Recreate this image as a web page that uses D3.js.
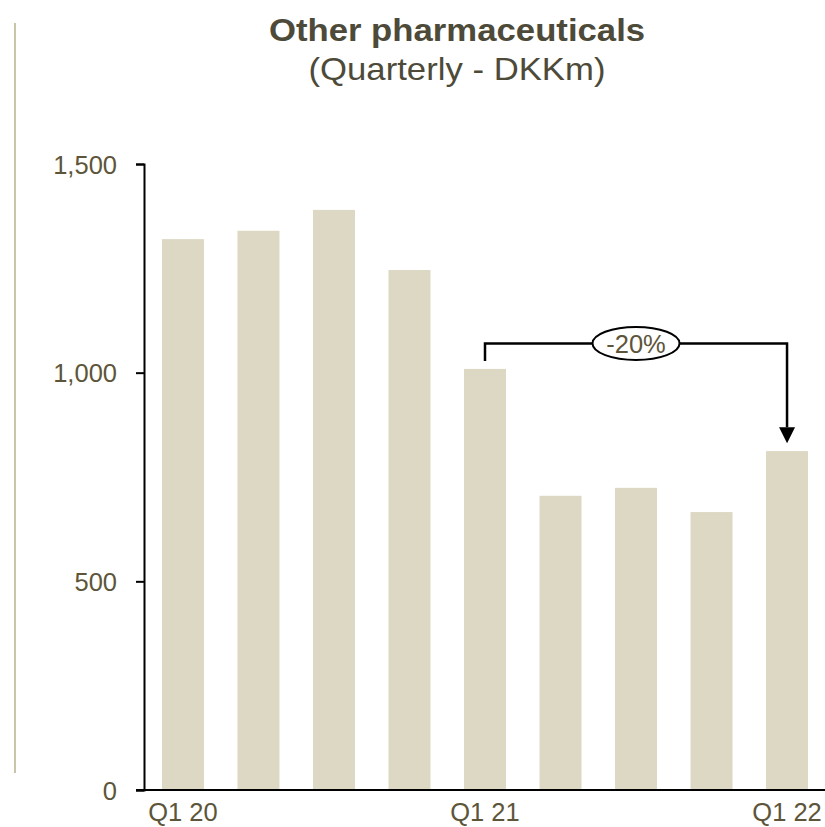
<!DOCTYPE html>
<html>
<head>
<meta charset="utf-8">
<script src="https://cdn.jsdelivr.net/npm/d3@7"></script>
<style>
  html, body { margin: 0; padding: 0; background: #ffffff; }
  svg { display: block; }
  text { font-family: "Liberation Sans", Arial, Helvetica, sans-serif; }
</style>
</head>
<body>
<svg id="chart" width="825" height="827"></svg>
<script>
// ---- data ----
const quarters = ["Q1 20", "Q2 20", "Q3 20", "Q4 20", "Q1 21", "Q2 21", "Q3 21", "Q4 21", "Q1 22"];
const sales = [1320, 1340, 1390, 1246, 1009, 705, 724, 666, 812];
const yTicks = [0, 500, 1000, 1500];
const xLabelShown = ["Q1 20", "Q1 21", "Q1 22"];
const titleText = "Other pharmaceuticals";
const subtitleText = "(Quarterly - DKKm)";
const changeLabel = "-20%";
const changeFrom = "Q1 21";
const changeTo = "Q1 22";
const bracketLevel = 1070;

// ---- styles ----
const barColor = "#ddd8c3";
const textColor = "#5d5539";
const titleColor = "#4d4a39";
const sideLineColor = "#c9c5aa";

const svg = d3.select("#chart");
const W = 825, H = 827;
const plotLeft = 144, plotRight = 826, plotTop = 164, plotBottom = 790;

const x = d3.scaleBand()
  .domain(quarters)
  .range([plotLeft, plotRight])
  .paddingInner(0.444)
  .paddingOuter(0.238);

const y = d3.scaleLinear()
  .domain([0, 1500])
  .range([plotBottom, plotTop]);

// decorative left line
svg.append("line")
  .attr("x1", 15).attr("x2", 15)
  .attr("y1", 23).attr("y2", 773)
  .attr("stroke", sideLineColor).attr("stroke-width", 2);

// title
const tcx = 457;
svg.append("text")
  .attr("transform", `translate(${tcx},41) scale(1.12,1)`)
  .attr("text-anchor", "middle")
  .attr("font-size", 31).attr("font-weight", "bold")
  .attr("fill", titleColor)
  .text(titleText);
svg.append("text")
  .attr("transform", `translate(${tcx},80) scale(1.12,1)`)
  .attr("text-anchor", "middle")
  .attr("font-size", 31)
  .attr("fill", titleColor)
  .text(subtitleText);

// bars
svg.append("g").selectAll("rect")
  .data(quarters.map((q, i) => ({ q, v: sales[i] })))
  .join("rect")
  .attr("x", d => x(d.q))
  .attr("width", x.bandwidth())
  .attr("y", d => y(d.v))
  .attr("height", d => y(0) - y(d.v))
  .attr("fill", barColor);

// y axis
const yAxis = svg.append("g")
  .attr("transform", `translate(${plotLeft},0)`)
  .call(d3.axisLeft(y).tickValues(yTicks).tickFormat(d3.format(",")).tickSize(8).tickPadding(19));
yAxis.selectAll("path, line").attr("stroke", "#000").attr("stroke-width", 2);
yAxis.selectAll("text").attr("font-size", 25.5).attr("fill", textColor)
  .attr("font-family", "'Liberation Sans', Arial, sans-serif").attr("dy", "0.36em");

// x axis
svg.append("line")
  .attr("x1", plotLeft - 8).attr("x2", W)
  .attr("y1", y(0)).attr("y2", y(0))
  .attr("stroke", "#000").attr("stroke-width", 2);
const xAxis = svg.append("g")
  .attr("transform", `translate(0,${y(0)})`)
  .call(d3.axisBottom(x).tickSize(0).tickPadding(13)
    .tickFormat(d => xLabelShown.includes(d) ? d : ""));
xAxis.select(".domain").remove();
xAxis.selectAll("text").attr("font-size", 25.5).attr("fill", textColor)
  .attr("font-family", "'Liberation Sans', Arial, sans-serif");

// change annotation
const iFrom = quarters.indexOf(changeFrom), iTo = quarters.indexOf(changeTo);
const xa = x(changeFrom) + x.bandwidth() / 2;
const xb = x(changeTo) + x.bandwidth() / 2;
const yl = y(bracketLevel);
const ya = y(sales[iFrom]) - 8;
const yb = y(sales[iTo]) - 8;
const headLen = 16, headHalf = 8;
svg.append("path")
  .attr("d", `M${xa},${ya} V${yl} H${xb} V${yb - headLen}`)
  .attr("fill", "none").attr("stroke", "#000").attr("stroke-width", 2.5);
svg.append("path")
  .attr("d", `M${xb - headHalf},${yb - headLen} L${xb + headHalf},${yb - headLen} L${xb},${yb} Z`)
  .attr("fill", "#000");
const ecx = (xa + xb) / 2;
svg.append("ellipse")
  .attr("cx", ecx).attr("cy", yl)
  .attr("rx", 43.5).attr("ry", 16.5)
  .attr("fill", "#fff").attr("stroke", "#000").attr("stroke-width", 2);
svg.append("text")
  .attr("x", ecx).attr("y", yl).attr("dy", "0.36em")
  .attr("text-anchor", "middle")
  .attr("font-size", 25.5).attr("fill", textColor)
  .text(changeLabel);
</script>
</body>
</html>
